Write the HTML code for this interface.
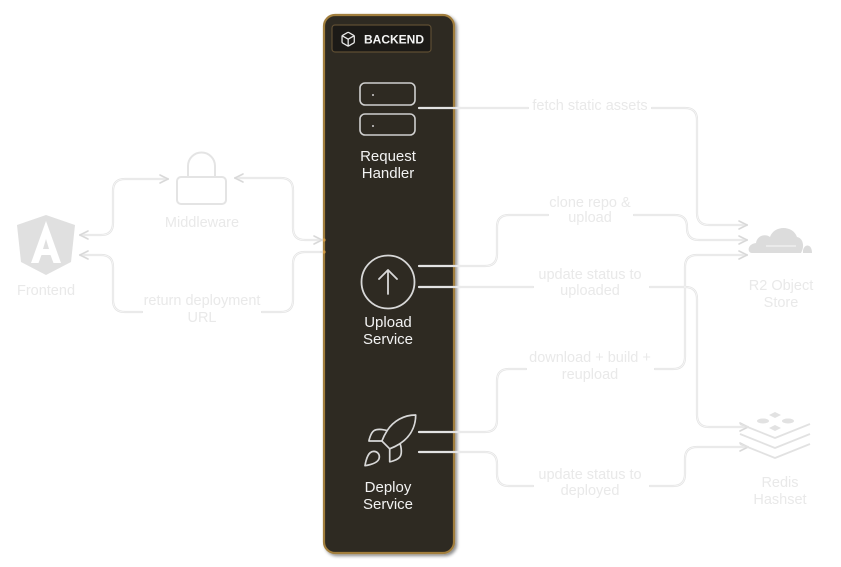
<!DOCTYPE html>
<html>
<head>
<meta charset="utf-8">
<style>
  html,body{margin:0;padding:0;background:#ffffff;}
  body{width:841px;height:567px;overflow:hidden;}
  svg{display:block;}
  .lbl{font-family:"Liberation Sans",Arial,sans-serif;font-size:14.5px;fill:#e9e9e9;text-anchor:middle;}
  .pl{font-family:"Liberation Sans",Arial,sans-serif;font-size:15px;fill:#f2f2f2;text-anchor:middle;}
  .ln{fill:none;stroke:#e3e3e3;stroke-width:2.2;stroke-linecap:round;stroke-linejoin:round;}
  .lnw{fill:none;stroke:#f7f7f7;stroke-width:0.8;stroke-linecap:round;stroke-linejoin:round;}
  .ar{fill:none;stroke:#d9d9d9;stroke-width:1.6;stroke-linecap:round;stroke-linejoin:round;}
</style>
</head>
<body>
<svg width="841" height="567" viewBox="0 0 841 567" xmlns="http://www.w3.org/2000/svg">
  <defs>
    <filter id="sh" x="-20%" y="-5%" width="140%" height="110%">
      <feDropShadow dx="2" dy="2" stdDeviation="1.5" flood-color="#000" flood-opacity="0.45"/>
    </filter>
  </defs>

  <!-- Backend panel -->
  <rect x="324" y="15" width="130" height="538" rx="11" fill="#2e2a22" stroke="#a17e3e" stroke-width="2.2" filter="url(#sh)"/>

  <!-- BACKEND label -->
  <rect x="332" y="25" width="99" height="27" rx="3" fill="#1c1a17" stroke="#5e4e33" stroke-width="1.2"/>
  <g transform="translate(340,31) scale(0.68)" fill="none" stroke="#e8e8e8" stroke-width="1.9" stroke-linecap="round" stroke-linejoin="round">
    <path d="M21 8a2 2 0 0 0-1-1.73l-7-4a2 2 0 0 0-2 0l-7 4A2 2 0 0 0 3 8v8a2 2 0 0 0 1 1.730l7 4a2 2 0 0 0 2 0l7-4A2 2 0 0 0 21 16Z"/>
    <path d="m3.3 7 8.7 5 8.7-5"/>
    <path d="M12 22V12"/>
  </g>
  <text x="394" y="43.5" font-family="Liberation Sans, Arial, sans-serif" font-size="12" font-weight="bold" fill="#f4f4f4" text-anchor="middle">BACKEND</text>

  <!-- Request handler icon -->
  <rect x="360" y="83" width="55" height="22" rx="5" fill="none" stroke="#cfcfcf" stroke-width="1.6"/>
  <rect x="360" y="114" width="55" height="21" rx="5" fill="none" stroke="#cfcfcf" stroke-width="1.6"/>
  <circle cx="373" cy="95" r="1" fill="#cfcfcf"/>
  <circle cx="373" cy="126" r="1" fill="#cfcfcf"/>
  <text class="pl" x="388" y="161">Request</text>
  <text class="pl" x="388" y="178">Handler</text>

  <!-- Upload service -->
  <circle cx="388" cy="282" r="26.5" fill="none" stroke="#d8d8d8" stroke-width="1.8"/>
  <path d="M388 294 V270 M379 279 L388 270 L397 279" fill="none" stroke="#d8d8d8" stroke-width="1.8" stroke-linecap="round" stroke-linejoin="round"/>
  <text class="pl" x="388" y="327">Upload</text>
  <text class="pl" x="388" y="344">Service</text>

  <!-- Deploy service rocket -->
  <g transform="translate(358.5,409.8) scale(2.6)" fill="none" stroke="#d8d8d8" stroke-width="0.65" stroke-linecap="round" stroke-linejoin="round">
    <path d="M4.5 16.5c-1.5 1.26-2 5-2 5s3.74-.5 5-2c.71-.84.7-2.130-.09-2.91a2.18 2.18 0 0 0-2.91-.09z"/>
    <path d="m12 15-3-3a22 22 0 0 1 2-3.95A12.88 12.88 0 0 1 22 2c0 2.72-.78 7.5-6 11a22.35 22.35 0 0 1-4 2z"/>
    <path d="M9 12H4s.55-3.03 2-4c1.62-1.08 5 0 5 0"/>
    <path d="M12 15v5s3.03-.55 4-2c1.08-1.62 0-5 0-5"/>
  </g>
  <text class="pl" x="388" y="492">Deploy</text>
  <text class="pl" x="388" y="509">Service</text>

  <!-- connection dots -->
  <circle cx="324" cy="240" r="1.6" fill="#d29a45"/>
  <circle cx="324" cy="252" r="1.6" fill="#d29a45"/>

  <!-- Right-side connectors -->
  <g>
    <path id="c1" class="ln" d="M419 108 H528 M652 108 H685 Q697 108 697 120 V213 Q697 225 709 225 H747"/>
    <path id="c2" class="ln" d="M419 266 H485 Q497 266 497 254 V227 Q497 215 509 215 H548 M634 215 H675 Q687 215 687 227 V228 Q687 240 699 240 H747"/>
    <path id="c3" class="ln" d="M419 287 H533 M650 287 H685 Q697 287 697 299 V415 Q697 427 709 427 H748"/>
    <path id="c4" class="ln" d="M419 432 H485 Q497 432 497 420 V381 Q497 369 509 369 H526 M655 369 H673 Q685 369 685 357 V267 Q685 255 697 255 H747"/>
    <path id="c5" class="ln" d="M419 452 H485 Q497 452 497 464 V474 Q497 486 509 486 H533 M650 486 H673 Q685 486 685 474 V459 Q685 447 697 447 H748"/>
    <path class="lnw" d="M456 108 H528 M652 108 H685 Q697 108 697 120 V213 Q697 225 709 225 H745"/>
    <path class="lnw" d="M456 266 H485 Q497 266 497 254 V227 Q497 215 509 215 H548 M634 215 H675 Q687 215 687 227 V228 Q687 240 699 240 H745"/>
    <path class="lnw" d="M456 287 H533 M650 287 H685 Q697 287 697 299 V415 Q697 427 709 427 H746"/>
    <path class="lnw" d="M456 432 H485 Q497 432 497 420 V381 Q497 369 509 369 H526 M655 369 H673 Q685 369 685 357 V267 Q685 255 697 255 H745"/>
    <path class="lnw" d="M456 452 H485 Q497 452 497 464 V474 Q497 486 509 486 H533 M650 486 H673 Q685 486 685 474 V459 Q685 447 697 447 H746"/>
  </g>

  <!-- Right arrowheads -->
  <path class="ar" d="M739 221 L747 225 L739 229"/>
  <path class="ar" d="M739 236 L747 240 L739 244"/>
  <path class="ar" d="M739 251 L747 255 L739 259"/>
  <path class="ar" d="M740 423 L748 427 L740 431"/>
  <path class="ar" d="M740 443 L748 447 L740 451"/>

  <!-- Right labels -->
  <text class="lbl" x="590" y="110">fetch static assets</text>
  <text class="lbl" x="590" y="207">clone repo &amp;</text>
  <text class="lbl" x="590" y="222">upload</text>
  <text class="lbl" x="590" y="279">update status to</text>
  <text class="lbl" x="590" y="295">uploaded</text>
  <text class="lbl" x="590" y="362">download + build +</text>
  <text class="lbl" x="590" y="379">reupload</text>
  <text class="lbl" x="590" y="479">update status to</text>
  <text class="lbl" x="590" y="495">deployed</text>

  <!-- R2 cloud -->
  <path d="M752 253 C747 253 747 244 756 243 C757 236 765 233 770 237 C774 225 793 225 797 237 C803 238 805 246 801 253 Z" fill="#dcdcdc"/>
  <path d="M803 253 C802 244 812 242 812 253 Z" fill="#dcdcdc"/>
  <path d="M766 246 H796" stroke="#f2f2f2" stroke-width="1.2"/>
  <text class="lbl" x="781" y="290">R2 Object</text>
  <text class="lbl" x="781" y="307">Store</text>

  <!-- Redis icon -->
  <g fill="none" stroke="#e2e2e2" stroke-width="1.8" stroke-linejoin="round">
    <path d="M740 424 L775 438 L810 424"/>
    <path d="M740 434 L775 448 L810 434"/>
    <path d="M740 444 L775 458 L810 444"/>
  </g>
  <g fill="#e2e2e2">
    <polygon points="775,412 781,415 775,418 769,415"/>
    <ellipse cx="763" cy="421" rx="6" ry="2.5"/>
    <ellipse cx="788" cy="421" rx="6" ry="2.5"/>
    <polygon points="775,425 781,428 775,431 769,428"/>
  </g>
  <text class="lbl" x="780" y="487">Redis</text>
  <text class="lbl" x="780" y="504">Hashset</text>

  <!-- Left side: Angular logo -->
  <polygon points="46,215 75,225 71,262 46,275 21,262 17,225" fill="#e0e0e0"/>
  <path d="M46 221 L31 263 L38.5 263 L41.5 255 L50.5 255 L53.5 263 L61 263 Z M43 249 L49 249 L46 239 Z" fill="#ffffff" fill-rule="evenodd"/>
  <text class="lbl" x="46" y="295">Frontend</text>

  <!-- Lock -->
  <rect x="177" y="177" width="49" height="27" rx="4" fill="none" stroke="#e4e4e4" stroke-width="2"/>
  <path d="M188 177 V166 A13.5 13.5 0 0 1 215 166 V177" fill="none" stroke="#e4e4e4" stroke-width="2"/>
  <text class="lbl" x="202" y="227">Middleware</text>

  <!-- Left connectors -->
  <path class="ln" d="M80 235 H101 Q113 235 113 223 V191 Q113 179 125 179 H168"/>
  <path class="ln" d="M235 178 H281 Q293 178 293 190 V228 Q293 240 305 240 H322"/>
  <path class="ln" d="M322 252 H305 Q293 252 293 264 V300 Q293 312 281 312 H262 M142 312 H125 Q113 312 113 300 V267 Q113 255 101 255 H80"/>
  <path class="lnw" d="M82 235 H101 Q113 235 113 223 V191 Q113 179 125 179 H166"/>
  <path class="lnw" d="M237 178 H281 Q293 178 293 190 V228 Q293 240 305 240 H320"/>
  <path class="lnw" d="M320 252 H305 Q293 252 293 264 V300 Q293 312 281 312 H262 M142 312 H125 Q113 312 113 300 V267 Q113 255 101 255 H82"/>

  <!-- Left arrowheads -->
  <path class="ar" d="M88 231 L80 235 L88 239"/>
  <path class="ar" d="M160 175 L168 179 L160 183"/>
  <path class="ar" d="M243 174 L235 178 L243 182"/>
  <path class="ar" d="M314 236 L322 240 L314 244"/>
  <path class="ar" d="M88 251 L80 255 L88 259"/>

  <text class="lbl" x="202" y="305">return deployment</text>
  <text class="lbl" x="202" y="322">URL</text>
</svg>
</body>
</html>
